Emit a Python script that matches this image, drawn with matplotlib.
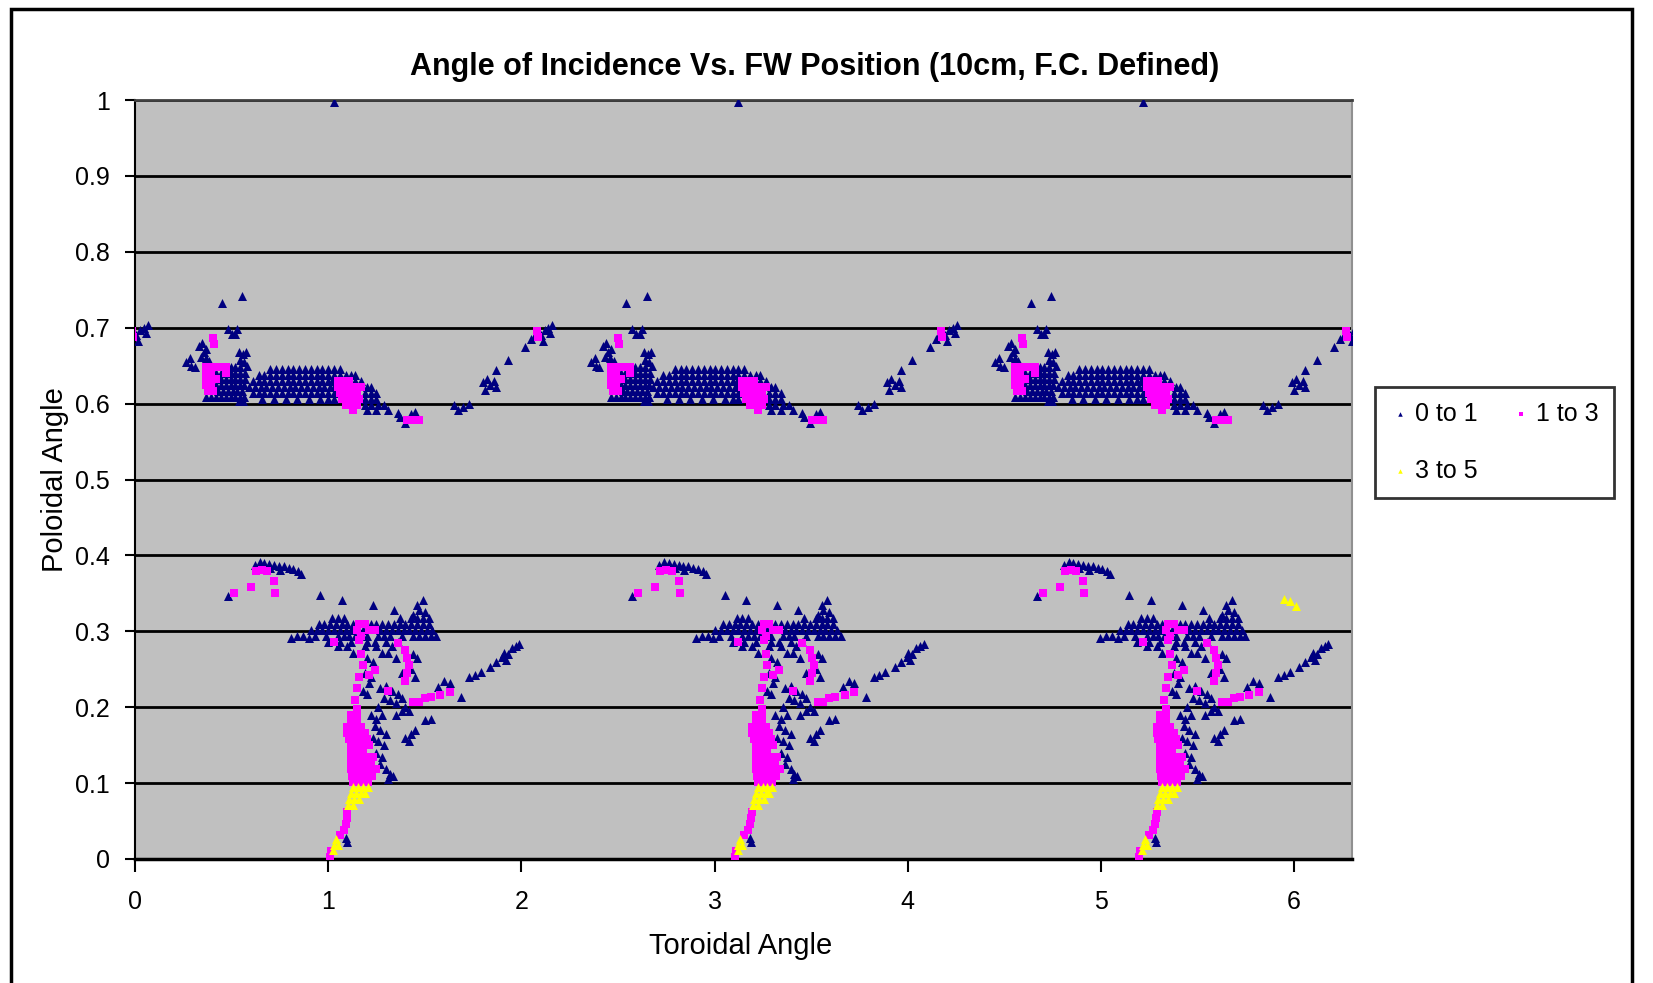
import numpy as np
import matplotlib
matplotlib.use("Agg")
import matplotlib.pyplot as plt
from matplotlib.patches import Rectangle

plt.rcParams['font.family'] = ['Liberation Sans', 'DejaVu Sans']

TITLE = "Angle of Incidence Vs. FW Position (10cm, F.C. Defined)"
X_LABEL = "Toroidal Angle"
Y_LABEL = "Poloidal Angle"
X_TICKS = [0, 1, 2, 3, 4, 5, 6]
X_TICK_LABELS = ["0", "1", "2", "3", "4", "5", "6"]
Y_TICKS = [0, 0.1, 0.2, 0.3, 0.4, 0.5, 0.6, 0.7, 0.8, 0.9, 1.0]
Y_TICK_LABELS = ["0", "0.1", "0.2", "0.3", "0.4", "0.5", "0.6", "0.7", "0.8", "0.9", "1"]
SERIES_NAMES = ["0 to 1", "1 to 3", "3 to 5"]
SERIES_COLORS = ["#000080", "#FF00FF", "#FFFF00"]

# The pattern recurs at x ~ 1.01, 3.10, 5.19 (toroidal field periods);
PERIOD_SHIFTS = [-2.094, 0.0, 2.094, 4.188]

# Points of one period, given as rows: (poloidal angle, [toroidal angles])
BLUE_ROWS = [
    (0.997, [1.03]),
    (0.742, [0.555]), (0.733, [0.45]),
    (0.698, [0.48, 0.53]), (0.692, [0.50, 0.52]),
    (0.680, [0.345]), (0.676, [0.33]), (0.672, [0.37]), (0.668, [0.355, 0.54, 0.575]),
    (0.665, [0.56]), (0.662, [0.34]), (0.660, [0.285, 0.365]), (0.658, [0.545]),
    (0.656, [0.385]), (0.655, [0.265, 0.565]), (0.650, [0.29, 0.58]), (0.648, [0.31]),
    # left blob
    (0.648, [0.495, 0.52, 0.545]),
    (0.640, [0.42, 0.445, 0.495, 0.52, 0.545, 0.57]),
    (0.632, [0.445, 0.47, 0.495, 0.52, 0.545, 0.57]),
    (0.624, [0.42, 0.445, 0.47, 0.495, 0.52, 0.545, 0.565]),
    (0.616, [0.43, 0.455, 0.48, 0.505, 0.53, 0.555]),
    (0.609, [0.37, 0.395, 0.42, 0.445, 0.47, 0.495, 0.52, 0.545, 0.565]),
    (0.603, [0.54, 0.56]),
    # arch
    (0.646, [0.70, 0.73, 0.76, 0.79, 0.82, 0.85, 0.88, 0.91, 0.94, 0.97, 1.00, 1.03, 1.06]),
    (0.638, [0.64, 0.67, 0.70, 0.73, 0.76, 0.79, 0.82, 0.85, 0.88, 0.91, 0.94, 0.97, 1.00,
             1.03, 1.06, 1.09, 1.12, 1.14]),
    (0.630, [0.61, 0.64, 0.67, 0.70, 0.73, 0.76, 0.79, 0.82, 0.85, 0.88, 0.91, 0.94, 0.97,
             1.00, 1.02, 1.14, 1.17]),
    (0.622, [0.59, 0.62, 0.65, 0.68, 0.71, 0.74, 0.77, 0.80, 0.83, 0.86, 0.89, 0.92, 0.95,
             0.98, 1.01, 1.03, 1.20, 1.22]),
    (0.614, [0.61, 0.64, 0.67, 0.70, 0.73, 0.76, 0.79, 0.82, 0.85, 0.88, 0.91, 0.94, 0.97,
             1.00, 1.03, 1.19, 1.22, 1.25]),
    (0.606, [0.66, 0.72, 0.78, 0.84, 0.90, 0.96, 1.00, 1.03, 1.19, 1.22, 1.25]),
    (0.598, [1.19, 1.22, 1.26, 1.29]),
    (0.591, [1.20, 1.25, 1.31]),
    # trail after the arch
    (0.588, [1.36]), (0.582, [1.37]), (0.586, [1.43]), (0.589, [1.45]), (0.575, [1.40]),
    (0.598, [1.65]), (0.592, [1.67]), (0.596, [1.70]), (0.600, [1.73]),
    (0.628, [1.80]), (0.633, [1.82]), (0.625, [1.84]), (0.618, [1.81]), (0.630, [1.86]),
    (0.622, [1.87]), (0.644, [1.87]), (0.657, [1.93]), (0.675, [2.02]),
    (0.685, [2.05]), (0.690, [2.07, 2.10]), (0.697, [2.12]), (0.700, [2.14]),
    (0.703, [2.16]), (0.683, [2.11]), (0.693, [2.15]),
    # lower arc
    (0.391, [0.645]), (0.390, [0.67]), (0.389, [0.695]), (0.388, [0.62, 0.72]),
    (0.386, [0.745, 0.77]), (0.384, [0.795]), (0.382, [0.82]), (0.380, [0.845]),
    (0.376, [0.86]), (0.383, [0.64, 0.70]), (0.381, [0.75]),
    (0.347, [0.48]), (0.348, [0.96]), (0.341, [1.07, 1.49]), (0.335, [1.23, 1.46]),
    (0.328, [1.34, 1.47]), (0.325, [1.50]), (0.322, [1.44]),
    # band near 0.3
    (0.318, [1.02, 1.05, 1.08, 1.37, 1.43, 1.46, 1.49, 1.52]),
    (0.310, [0.95, 0.98, 1.01, 1.04, 1.07, 1.10, 1.13, 1.22, 1.25, 1.28, 1.31, 1.34, 1.37,
             1.40, 1.43, 1.46, 1.49, 1.52]),
    (0.302, [0.91, 0.94, 0.97, 1.00, 1.03, 1.06, 1.09, 1.12, 1.18, 1.27, 1.30, 1.33, 1.36,
             1.39, 1.42, 1.45, 1.48, 1.51, 1.54]),
    (0.294, [0.84, 0.87, 0.93, 0.99, 1.05, 1.08, 1.11, 1.14, 1.20, 1.26, 1.29, 1.32, 1.38,
             1.44, 1.47, 1.50, 1.53, 1.56]),
    (0.291, [0.81, 0.90]),
    (0.286, [1.00, 1.06, 1.12, 1.20, 1.24, 1.30, 1.36]),
    (0.280, [1.05, 1.10, 1.19, 1.25, 1.33]), (0.272, [1.13, 1.28, 1.31]),
    # leg
    (0.265, [1.20, 1.35, 1.46]), (0.245, [1.19, 1.38]), (0.232, [1.21]), (0.222, [1.18, 1.33]),
    (0.218, [1.20, 1.36]), (0.260, [1.23]), (0.270, [1.44]), (0.250, [1.43]), (0.240, [1.22, 1.45]),
    (0.225, [1.27]), (0.228, [1.30]), (0.212, [1.29, 1.38]), (0.210, [1.32]), (0.205, [1.35]),
    (0.200, [1.26, 1.40]), (0.195, [1.38, 1.42]), (0.190, [1.22, 1.28, 1.35]),
    (0.185, [1.25, 1.53]), (0.183, [1.50]), (0.175, [1.24]), (0.170, [1.27, 1.45]),
    (0.165, [1.30, 1.43]), (0.160, [1.23, 1.40]), (0.155, [1.26, 1.42]), (0.150, [1.29]),
    (0.140, [1.25]), (0.135, [1.28]), (0.125, [1.27]), (0.118, [1.30]), (0.112, [1.32]),
    (0.105, [1.31]), (0.110, [1.335]),
    # diagonal trail
    (0.227, [1.57]), (0.235, [1.60]), (0.232, [1.63]), (0.214, [1.69]), (0.240, [1.73]),
    (0.243, [1.76]), (0.247, [1.79]), (0.253, [1.84]), (0.260, [1.87]), (0.266, [1.90]),
    (0.272, [1.91]), (0.270, [1.93]), (0.278, [1.95]), (0.280, [1.97]), (0.283, [1.99]),
    (0.262, [1.92]),
    (0.028, [1.09]), (0.022, [1.095]),
]

MAGENTA_ROWS = [
    (0.687, [0.405]), (0.679, [0.41]),
    (0.648, [0.37, 0.395, 0.42, 0.445, 0.47]), (0.640, [0.37, 0.395, 0.47]),
    (0.632, [0.37, 0.395, 0.42]), (0.624, [0.37, 0.395]), (0.616, [0.38, 0.405]),
    (0.630, [1.05, 1.08, 1.11]), (0.622, [1.05, 1.08, 1.11, 1.14, 1.17]),
    (0.614, [1.06, 1.09, 1.12, 1.15]), (0.606, [1.07, 1.10, 1.13, 1.16]),
    (0.598, [1.09, 1.12, 1.15]), (0.591, [1.13]),
    (0.578, [1.41, 1.44, 1.47]),
    (0.695, [2.08]), (0.688, [2.085]),
    (0.379, [0.625]), (0.381, [0.655]), (0.380, [0.685]), (0.358, [0.60]), (0.366, [0.72]),
    (0.350, [0.51, 0.727]),
    (0.310, [1.16, 1.19]), (0.302, [1.15, 1.21, 1.24]), (0.294, [1.17]), (0.286, [1.03]),
    (0.288, [1.16]), (0.270, [1.17]), (0.255, [1.18]), (0.240, [1.16]), (0.225, [1.15]),
    (0.210, [1.14]), (0.198, [1.15]), (0.275, [1.40]), (0.265, [1.41]), (0.255, [1.42]),
    (0.245, [1.41]), (0.235, [1.40]), (0.285, [1.36]), (0.222, [1.31]), (0.207, [1.44, 1.47]),
    (0.212, [1.50]), (0.214, [1.53]), (0.216, [1.58]), (0.220, [1.63]), (0.243, [1.21]),
    (0.249, [1.24]),
    (0.190, [1.12, 1.15]), (0.182, [1.12, 1.15]), (0.174, [1.10, 1.13, 1.17]),
    (0.166, [1.10, 1.13, 1.16, 1.19]), (0.158, [1.11, 1.14, 1.17, 1.20]),
    (0.150, [1.12, 1.15, 1.18, 1.21]), (0.142, [1.12, 1.15, 1.18]),
    (0.134, [1.12, 1.145, 1.17, 1.20, 1.23]), (0.126, [1.12, 1.145, 1.17, 1.195, 1.22]),
    (0.118, [1.12, 1.145, 1.17, 1.195, 1.22, 1.245]), (0.110, [1.125, 1.15, 1.175, 1.20, 1.225]),
    (0.102, [1.13, 1.155, 1.18, 1.205]),
    (0.062, [1.10]), (0.054, [1.095]), (0.046, [1.09]), (0.038, [1.08]), (0.031, [1.06]),
    (0.010, [1.015]), (0.003, [1.01]),
]

YELLOW_ROWS = [
    (0.095, [1.13, 1.155, 1.18, 1.205]), (0.087, [1.12, 1.145, 1.17, 1.19]),
    (0.079, [1.11, 1.135, 1.16]), (0.071, [1.105, 1.13]),
    (0.026, [1.04]), (0.019, [1.03, 1.05]), (0.012, [1.025]),
]
# yellow points seen only once (third period, upper right)
YELLOW_EXTRA_X = [5.95, 5.98, 6.01]
YELLOW_EXTRA_Y = [0.342, 0.340, 0.333]


def expand(rows, shifts):
    xs, ys = [], []
    for s in shifts:
        for yv, xl in rows:
            for xv in xl:
                xs.append(xv + s)
                ys.append(yv)
    return np.array(xs), np.array(ys)


W, H = 1653, 983
fig = plt.figure(figsize=(W / 100, H / 100), dpi=100)
fig.patch.set_facecolor("white")

# outer chart border
fig.patches.append(Rectangle((11 / W, -0.05), (1632 - 11) / W, 1.05 - 9 / H,
                             transform=fig.transFigure, fill=False,
                             edgecolor="black", linewidth=2.5))

ax = fig.add_axes([135 / W, 1 - 859 / H, 1217 / W, 759 / H])
ax.set_facecolor("#C0C0C0")
ax.set_xlim(0, 6.3)
ax.set_ylim(0, 1)
ax.set_axisbelow(True)
ax.yaxis.grid(True, color="black", linewidth=2)
ax.set_xticks(X_TICKS)
ax.set_xticklabels(X_TICK_LABELS)
ax.set_yticks(Y_TICKS)
ax.set_yticklabels(Y_TICK_LABELS)
ax.tick_params(axis="x", direction="out", length=9, width=1.5, pad=13, labelsize=18)
ax.tick_params(axis="y", direction="out", length=7, width=1.5, pad=11, labelsize=18)
for side, col, lw in [("left", "black", 1.5), ("bottom", "black", 2.5),
                      ("top", "#404040", 2), ("right", "#909090", 1.5)]:
    ax.spines[side].set_color(col)
    ax.spines[side].set_linewidth(lw)

bx, by = expand(BLUE_ROWS, PERIOD_SHIFTS)
mx, my = expand(MAGENTA_ROWS, PERIOD_SHIFTS)
yx, yy = expand(YELLOW_ROWS, PERIOD_SHIFTS)
yx = np.concatenate([yx, YELLOW_EXTRA_X])
yy = np.concatenate([yy, YELLOW_EXTRA_Y])

h1 = ax.scatter(bx, by, marker="^", s=42, c=SERIES_COLORS[0], linewidths=0, zorder=3,
                label=SERIES_NAMES[0])
h2 = ax.scatter(mx, my, marker="s", s=28, c=SERIES_COLORS[1], linewidths=0, zorder=4,
                label=SERIES_NAMES[1])
h3 = ax.scatter(yx, yy, marker="^", s=42, c=SERIES_COLORS[2], linewidths=0, zorder=5,
                label=SERIES_NAMES[2])

ax.set_xlabel(X_LABEL, fontsize=21)
ax.set_ylabel(Y_LABEL, fontsize=21)
ax.xaxis.set_label_coords((741 - 135) / 1217, (859 - 932) / 759)
ax.yaxis.set_label_coords((69 - 135) / 1217, 0.5)

fig.text(815 / W, 1 - 67 / H, TITLE, ha="center", va="center", fontsize=22,
         fontweight="bold")

# column-major filling: order so that rows read "0 to 1, 1 to 3" / "3 to 5"
leg = fig.legend(handles=[h1, h3, h2], labels=[SERIES_NAMES[0], SERIES_NAMES[2], SERIES_NAMES[1]],
                 ncol=2, loc="upper left", bbox_to_anchor=(1375 / W, 1 - 387 / H),
                 borderaxespad=0, fontsize=18, handlelength=0.8, handletextpad=0.2,
                 columnspacing=1.34, labelspacing=1.3, borderpad=0.6,
                 fancybox=False, frameon=True, scatterpoints=1, markerscale=0.5)
leg.get_frame().set_edgecolor("black")
leg.get_frame().set_linewidth(2)

fig.savefig("out.png", dpi=100)
